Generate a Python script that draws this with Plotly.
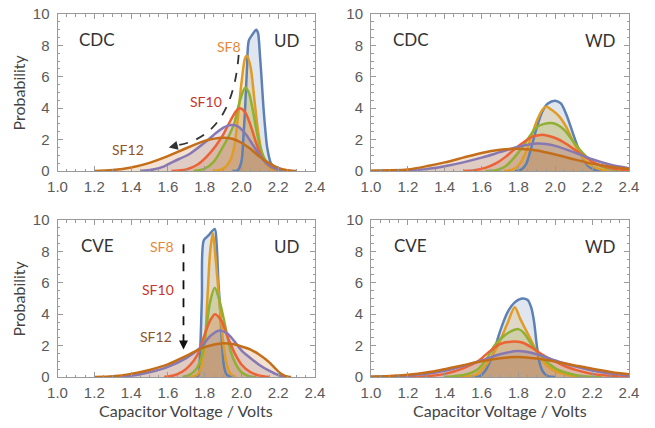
import plotly.graph_objects as go

# ---------------- data (voltage, probability) ----------------
SERIES = ["SF7", "SF8", "SF9", "SF10", "SF11", "SF12"]
COLORS = ["#5E81B5", "#E19C24", "#8FB032", "#EB6235", "#8778B3", "#C56E1A"]

# CDC / UD
CDC_UD_SF7 = [(1.95,0),(1.98,0.05),(2.0,0.6),(2.01,2.0),(2.02,4.0),(2.03,6.5),(2.04,8.3),(2.06,8.7),(2.08,9.0),(2.09,8.8),(2.10,7.5),(2.11,5.8),(2.12,4.0),(2.13,2.6),(2.14,1.5),(2.16,0.5),(2.19,0.1),(2.25,0)]
CDC_UD_SF8 = [(1.85,0),(1.90,0.15),(1.94,0.7),(1.96,1.5),(1.98,3.3),(2.0,5.6),(2.02,7.2),(2.03,7.35),(2.05,6.6),(2.07,4.6),(2.09,2.6),(2.11,1.2),(2.13,0.5),(2.17,0.1),(2.25,0)]
CDC_UD_SF9 = [(1.74,0),(1.80,0.15),(1.85,0.6),(1.90,1.55),(1.93,2.2),(1.96,3.0),(1.99,4.4),(2.02,5.3),(2.04,5.0),(2.06,4.0),(2.08,2.7),(2.10,1.6),(2.13,0.7),(2.17,0.2),(2.24,0)]
CDC_UD_SF10 = [(1.62,0),(1.70,0.1),(1.76,0.4),(1.81,0.9),(1.86,1.6),(1.90,2.3),(1.94,3.2),(1.97,3.8),(1.99,4.0),(2.02,3.75),(2.05,2.9),(2.08,1.8),(2.11,0.9),(2.15,0.35),(2.2,0.08),(2.27,0)]
CDC_UD_SF11 = [(1.45,0),(1.52,0.1),(1.58,0.3),(1.63,0.6),(1.72,1.1),(1.81,1.9),(1.86,2.4),(1.90,2.75),(1.94,2.93),(1.98,2.85),(2.02,2.4),(2.06,1.7),(2.10,1.0),(2.14,0.45),(2.19,0.12),(2.27,0)]
CDC_UD_SF12 = [(1.20,0),(1.30,0.06),(1.40,0.22),(1.50,0.52),(1.60,0.95),(1.70,1.45),(1.80,1.92),(1.90,2.12),(1.95,2.05),(2.00,1.8),(2.05,1.4),(2.10,0.9),(2.15,0.5),(2.20,0.2),(2.25,0.05),(2.30,0)]

# CDC / WD
CDC_WD_SF7 = [(1.78,0),(1.81,0.05),(1.84,0.4),(1.87,1.5),(1.90,2.8),(1.93,3.8),(1.96,4.3),(2.00,4.48),(2.03,4.3),(2.06,3.6),(2.09,2.6),(2.12,1.6),(2.15,0.8),(2.18,0.3),(2.22,0.05),(2.25,0)]
CDC_WD_SF8 = [(1.72,0),(1.76,0.05),(1.80,0.35),(1.84,1.2),(1.87,2.2),(1.90,3.2),(1.93,3.9),(1.95,4.1),(1.98,3.9),(2.02,3.5),(2.06,2.8),(2.10,1.8),(2.14,1.0),(2.18,0.45),(2.24,0.12),(2.30,0.02),(2.35,0)]
CDC_WD_SF9 = [(1.62,0),(1.68,0.05),(1.73,0.3),(1.78,0.9),(1.82,1.5),(1.86,2.2),(1.90,2.8),(1.94,3.0),(1.98,3.05),(2.01,2.95),(2.05,2.6),(2.09,2.0),(2.13,1.4),(2.17,0.9),(2.21,0.5),(2.26,0.25),(2.32,0.08),(2.40,0)]
CDC_WD_SF10 = [(1.50,0),(1.56,0.05),(1.62,0.2),(1.68,0.5),(1.73,0.9),(1.78,1.4),(1.83,1.85),(1.88,2.2),(1.92,2.3),(1.96,2.25),(2.00,2.1),(2.05,1.8),(2.10,1.4),(2.15,1.0),(2.20,0.6),(2.25,0.35),(2.32,0.15),(2.40,0.05)]
CDC_WD_SF11 = [(1.0,0),(1.1,0.01),(1.2,0.04),(1.3,0.12),(1.4,0.3),(1.5,0.55),(1.6,0.85),(1.7,1.2),(1.8,1.55),(1.9,1.75),(1.95,1.72),(2.0,1.6),(2.1,1.2),(2.2,0.75),(2.3,0.4),(2.4,0.18)]
CDC_WD_SF12 = [(1.0,0.01),(1.1,0.04),(1.2,0.1),(1.3,0.3),(1.4,0.55),(1.5,0.85),(1.6,1.15),(1.7,1.35),(1.8,1.42),(1.9,1.3),(2.0,1.05),(2.1,0.75),(2.2,0.47),(2.3,0.27),(2.4,0.13)]

# CVE / UD
CVE_UD_SF7 = [(1.74,0),(1.765,0.1),(1.775,1.5),(1.785,5.0),(1.795,8.7),(1.82,9.0),(1.855,9.43),(1.865,8.5),(1.875,6.0),(1.885,4.2),(1.895,2.0),(1.905,0.7),(1.92,0.15),(1.95,0)]
CVE_UD_SF8 = [(1.72,0),(1.76,0.15),(1.78,0.6),(1.80,2.0),(1.815,5.0),(1.83,8.0),(1.845,9.15),(1.86,7.5),(1.875,5.5),(1.89,3.5),(1.905,1.8),(1.92,0.8),(1.94,0.2),(1.97,0)]
CVE_UD_SF9 = [(1.68,0),(1.72,0.15),(1.76,0.6),(1.79,1.6),(1.81,3.2),(1.83,4.8),(1.855,5.69),(1.88,4.9),(1.90,3.9),(1.92,2.8),(1.94,1.7),(1.97,0.8),(2.00,0.3),(2.04,0.05),(2.08,0)]
CVE_UD_SF10 = [(1.58,0),(1.63,0.1),(1.68,0.35),(1.72,0.75),(1.76,1.4),(1.80,2.7),(1.83,3.6),(1.856,4.0),(1.89,3.6),(1.92,2.7),(1.96,1.6),(2.00,0.8),(2.05,0.3),(2.10,0.08),(2.15,0)]
CVE_UD_SF11 = [(1.30,0),(1.40,0.08),(1.50,0.3),(1.60,0.65),(1.70,1.2),(1.78,1.9),(1.83,2.6),(1.875,2.95),(1.92,2.8),(1.96,2.3),(2.00,1.7),(2.05,1.2),(2.10,0.75),(2.15,0.4),(2.20,0.12),(2.25,0)]
CVE_UD_SF12 = [(1.20,0),(1.30,0.05),(1.40,0.2),(1.50,0.45),(1.60,0.8),(1.70,1.35),(1.80,1.9),(1.90,2.15),(1.95,2.1),(2.00,1.95),(2.05,1.75),(2.10,1.4),(2.15,0.95),(2.18,0.6),(2.21,0.25),(2.24,0.05),(2.27,0)]

# CVE / WD
CVE_WD_SF7 = [(1.56,0),(1.59,0.05),(1.62,0.4),(1.66,1.4),(1.70,2.9),(1.74,4.1),(1.78,4.75),(1.82,5.0),(1.85,4.9),(1.87,4.4),(1.885,3.5),(1.90,2.0),(1.915,0.9),(1.935,0.3),(1.96,0.05),(2.0,0)]
CVE_WD_SF8 = [(1.48,0),(1.53,0.05),(1.57,0.15),(1.62,0.7),(1.66,1.4),(1.70,2.3),(1.74,3.4),(1.78,4.45),(1.81,3.7),(1.84,3.0),(1.87,2.3),(1.90,1.6),(1.94,0.9),(1.98,0.5),(2.03,0.25),(2.10,0.05),(2.15,0)]
CVE_WD_SF9 = [(1.40,0),(1.45,0.05),(1.52,0.18),(1.58,0.5),(1.63,1.2),(1.67,2.0),(1.71,2.5),(1.75,2.85),(1.80,3.05),(1.83,2.8),(1.87,2.1),(1.91,1.5),(1.95,1.0),(2.00,0.55),(2.05,0.3),(2.12,0.1),(2.20,0.02),(2.25,0)]
CVE_WD_SF10 = [(1.20,0),(1.30,0.05),(1.40,0.2),(1.50,0.55),(1.58,1.0),(1.64,1.6),(1.70,2.1),(1.76,2.25),(1.82,2.2),(1.87,1.9),(1.92,1.5),(1.98,1.1),(2.05,0.7),(2.12,0.42),(2.20,0.2),(2.30,0.08),(2.40,0.03)]
CVE_WD_SF11 = [(1.0,0.01),(1.1,0.04),(1.2,0.09),(1.3,0.2),(1.4,0.4),(1.5,0.7),(1.6,1.05),(1.7,1.45),(1.8,1.65),(1.9,1.45),(2.0,1.05),(2.1,0.7),(2.2,0.42),(2.3,0.22),(2.4,0.1)]
CVE_WD_SF12 = [(1.0,0.02),(1.1,0.06),(1.2,0.14),(1.3,0.28),(1.4,0.5),(1.5,0.75),(1.6,1.0),(1.7,1.2),(1.8,1.28),(1.9,1.18),(2.0,0.98),(2.1,0.75),(2.2,0.52),(2.3,0.32),(2.4,0.17)]

PANELS = [
    ("CDC", "UD", [CDC_UD_SF7, CDC_UD_SF8, CDC_UD_SF9, CDC_UD_SF10, CDC_UD_SF11, CDC_UD_SF12]),
    ("CDC", "WD", [CDC_WD_SF7, CDC_WD_SF8, CDC_WD_SF9, CDC_WD_SF10, CDC_WD_SF11, CDC_WD_SF12]),
    ("CVE", "UD", [CVE_UD_SF7, CVE_UD_SF8, CVE_UD_SF9, CVE_UD_SF10, CVE_UD_SF11, CVE_UD_SF12]),
    ("CVE", "WD", [CVE_WD_SF7, CVE_WD_SF8, CVE_WD_SF9, CVE_WD_SF10, CVE_WD_SF11, CVE_WD_SF12]),
]
X_TICKS = [1.0, 1.2, 1.4, 1.6, 1.8, 2.0, 2.2, 2.4]
Y_TICKS = [0, 2, 4, 6, 8, 10]
X_TITLE = "Capacitor Voltage / Volts"
Y_TITLE = "Probability"

# ---------------- layout geometry ----------------
W, H = 655, 428
def px(x0, x1):
    return [x0 / W, x1 / W]
def py(top, bottom):
    return [1 - bottom / H, 1 - top / H]

DOMAINS = [
    (px(57.5, 315), py(14, 171)),
    (px(371, 629), py(14, 171)),
    (px(57.5, 315), py(220, 377)),
    (px(371, 629), py(220, 377)),
]

def rgba(hexc, a):
    h = hexc.lstrip("#")
    r, g, b = int(h[0:2], 16), int(h[2:4], 16), int(h[4:6], 16)
    return f"rgba({r},{g},{b},{a})"

fig = go.Figure()
TICKFONT = dict(family="Liberation Sans, Arial", size=15, color="#5a5a5a")
LABFONT = "Lato, Open Sans, sans-serif"

for i, (left, right, curves) in enumerate(PANELS):
    n = i + 1
    xa = "x" if n == 1 else f"x{n}"
    ya = "y" if n == 1 else f"y{n}"
    for s, c, pts in zip(SERIES, COLORS, curves):
        fig.add_trace(go.Scatter(
            x=[p[0] for p in pts], y=[p[1] for p in pts], xaxis=xa, yaxis=ya,
            mode="lines", line=dict(width=0, shape="spline", smoothing=0.8),
            fill="tozeroy", fillcolor=rgba(c, 0.2), showlegend=False, hoverinfo="skip"))
    for s, c, pts in zip(SERIES, COLORS, curves):
        fig.add_trace(go.Scatter(
            x=[p[0] for p in pts], y=[p[1] for p in pts], xaxis=xa, yaxis=ya,
            mode="lines", line=dict(width=2.5, color=c, shape="spline", smoothing=0.8),
            name=s, showlegend=False))
    dx, dy = DOMAINS[i]
    axcommon = dict(showline=True, linecolor="#9a9a9a", linewidth=1, mirror="allticks",
                    ticks="inside", ticklen=5, tickcolor="#9a9a9a", tickwidth=1,
                    showgrid=False, zeroline=False, tickfont=TICKFONT, fixedrange=True,
                    automargin=False)
    fig.layout[("xaxis" if n == 1 else f"xaxis{n}")] = dict(
        domain=dx, anchor=ya, range=[1.0, 2.4], tickvals=X_TICKS,
        ticktext=[f"{v:.1f}" for v in X_TICKS], ticklabelstandoff=2,
        minor=dict(dtick=0.05, tick0=1.0, ticks="inside", ticklen=2.5, tickcolor="#9a9a9a"),
        **axcommon)
    fig.layout[("yaxis" if n == 1 else f"yaxis{n}")] = dict(
        domain=dy, anchor=xa, range=[0, 10], tickvals=Y_TICKS, ticklabelstandoff=4,
        minor=dict(dtick=0.5, tick0=0, ticks="inside", ticklen=2.5, tickcolor="#9a9a9a"),
        **axcommon)
    fig.add_annotation(xref=f"{xa} domain", yref=f"{ya} domain", x=0.155, y=0.835,
                       xanchor="center", yanchor="middle",
                       text=left, showarrow=False, font=dict(family=LABFONT, size=17, color="#333333"))
    fig.add_annotation(xref=f"{xa} domain", yref=f"{ya} domain", x=0.89, y=0.83,
                       xanchor="center", yanchor="middle",
                       text=right, showarrow=False, font=dict(family=LABFONT, size=17, color="#333333"))

SF8_C, SF10_C, SF12_C = "#E8873A", "#C7352A", "#8F5526"
def sf_label(xr, yr, x, y, text, color):
    fig.add_annotation(xref=xr, yref=yr, x=x, y=y, text=text, showarrow=False,
                       xanchor="center", yanchor="middle",
                       font=dict(family=LABFONT, size=14, color=color))

sf_label("x", "y", 1.93, 7.9, "SF8", SF8_C)
sf_label("x", "y", 1.81, 4.4, "SF10", SF10_C)
sf_label("x", "y", 1.385, 1.35, "SF12", SF12_C)
fig.add_shape(type="path", xref="x", yref="y",
              path="M 1.985,7.4 Q 1.95,2.1 1.64,1.62",
              line=dict(color="#333333", width=1.8, dash="dash"))
fig.add_annotation(xref="x", yref="y", axref="x", ayref="y", x=1.605, y=1.5, ax=1.66, ay=1.66,
                   text="", showarrow=True, arrowhead=2, arrowsize=1, arrowwidth=1.8, arrowcolor="#333333")

sf_label("x3", "y3", 1.57, 8.3, "SF8", SF8_C)
sf_label("x3", "y3", 1.545, 5.55, "SF10", SF10_C)
sf_label("x3", "y3", 1.535, 2.55, "SF12", SF12_C)
fig.add_shape(type="line", xref="x3", yref="y3", x0=1.685, y0=8.45, x1=1.685, y1=2.3,
              line=dict(color="#111111", width=1.8, dash="dash"))
fig.add_annotation(xref="x3", yref="y3", axref="x3", ayref="y3", x=1.685, y=1.75, ax=1.685, ay=2.4,
                   text="", showarrow=True, arrowhead=2, arrowsize=1, arrowwidth=1.8, arrowcolor="#111111")

for yc in [92.5, 298.5]:
    fig.add_annotation(xref="paper", yref="paper", x=18 / W, y=1 - yc / H, text=Y_TITLE,
                       xanchor="center", yanchor="middle", textangle=-90, showarrow=False,
                       font=dict(family=LABFONT, size=16, color="#444444"))
for xc in [186, 500]:
    fig.add_annotation(xref="paper", yref="paper", x=xc / W, y=1 - 410 / H, text=X_TITLE,
                       xanchor="center", yanchor="middle", showarrow=False,
                       font=dict(family=LABFONT, size=16, color="#444444"))

fig.update_layout(width=W, height=H, margin=dict(l=0, r=0, t=0, b=0, pad=0, autoexpand=False),
                  paper_bgcolor="white", plot_bgcolor="white", showlegend=False)
fig.write_html("out.html", config={"displayModeBar": False},
               post_script="document.body.style.margin='0';")
